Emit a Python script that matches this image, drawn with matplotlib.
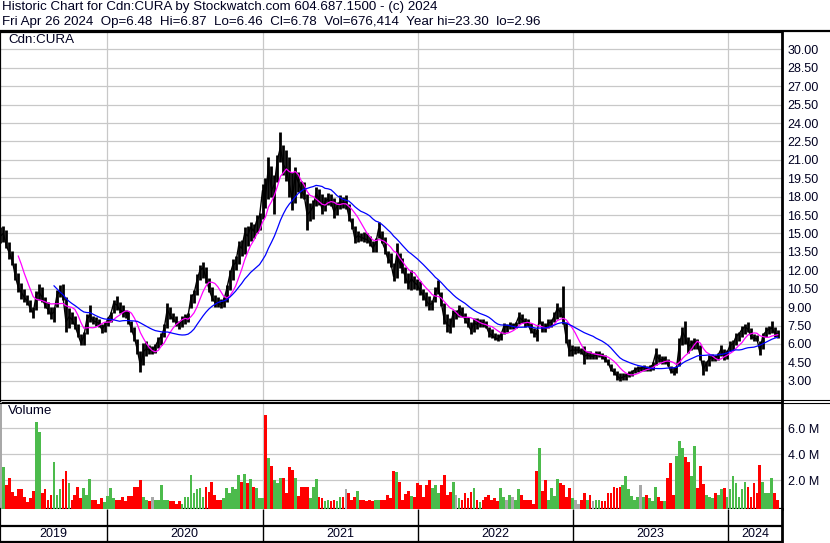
import numpy as np
import pandas as pd
import matplotlib
matplotlib.use("Agg")
import matplotlib.pyplot as plt
import matplotlib.dates as mdates
from matplotlib.lines import Line2D

plt.rcParams['font.family'] = ['Liberation Sans', 'DejaVu Sans']

# weekly bars, first week ends 2019-04-26
start = pd.Timestamp('2019-04-26')
week_hi = [15.5, 15.6, 15.3, 14.3, 13.6, 12.6, 11.8, 11.0, 10.5, 10.0,
           9.6, 9.0, 10.3, 10.9, 10.6, 9.8, 9.4, 9.0, 9.0, 10.4,
           10.8, 10.9, 9.8, 8.9, 8.6, 8.3, 7.6, 6.8, 7.0, 8.4,
           9.2, 8.3, 8.2, 8.0, 7.6, 7.8, 8.2, 8.6, 9.6, 9.9,
           9.4, 9.2, 8.8, 8.7, 7.9, 7.4, 6.4, 5.4, 6.1, 6.2,
           5.9, 5.8, 6.0, 6.6, 6.9, 7.6, 9.3, 9.0, 8.5, 8.3,
           7.9, 8.3, 8.4, 8.5, 10.1, 10.4, 11.7, 12.4, 12.7, 12.3,
           11.4, 10.6, 10.0, 9.8, 9.7, 9.8, 10.8, 12.0, 12.9, 13.2,
           14.4, 14.5, 15.5, 15.6, 15.9, 15.8, 16.5, 16.7, 19.0, 19.5,
           21.2, 20.5, 19.8, 21.4, 23.3, 22.2, 21.8, 21.2, 20.0, 20.4,
           20.0, 19.3, 19.2, 18.2, 17.5, 17.7, 18.8, 18.6, 18.2, 18.0,
           18.3, 18.2, 17.9, 17.6, 18.1, 18.0, 18.1, 17.4, 16.3, 15.6,
           15.2, 15.0, 15.1, 15.0, 14.8, 14.4, 14.6, 15.9, 15.2, 14.7,
           13.6, 13.4, 12.6, 14.2, 13.4, 13.0, 12.3, 11.8, 12.0, 11.5,
           11.3, 11.1, 10.5, 10.2, 9.9, 9.6, 10.6, 11.2, 10.2, 9.3,
           8.4, 8.1, 8.8, 8.8, 9.2, 9.0, 8.5, 8.2, 7.8, 8.1,
           8.1, 8.0, 8.0, 7.9, 7.4, 7.2, 6.9, 6.8, 6.9, 7.7,
           7.6, 7.8, 7.7, 7.8, 8.6, 8.4, 8.1, 8.0, 7.7, 7.3,
           7.2, 9.0, 7.9, 7.7, 8.0, 8.0, 8.6, 9.3, 9.0, 10.7,
           7.8, 6.4, 5.9, 5.8, 5.8, 5.7, 5.8, 5.4, 5.4, 5.3,
           5.4, 5.4, 5.3, 5.1, 4.8, 4.4, 4.0, 3.8, 3.6, 3.6,
           3.6, 3.8, 3.9, 4.1, 4.2, 4.2, 4.3, 4.2, 4.3, 4.5,
           5.65, 5.2, 5.0, 5.0, 4.8, 4.2, 4.1, 4.2, 6.5, 7.4,
           7.87, 6.6, 6.3, 6.5, 6.4, 5.9, 4.7, 4.6, 5.1, 5.2,
           5.1, 5.3, 5.9, 5.6, 5.5, 6.2, 6.3, 6.9, 7.0, 7.5,
           7.6, 7.8, 7.3, 6.8, 6.7, 6.2, 6.9, 7.4, 7.5, 7.9,
           7.4, 7.1]
week_lo = [14.2, 14.3, 13.8, 12.9, 12.4, 11.2, 10.2, 9.7, 9.4, 9.2,
           8.6, 8.1, 8.8, 9.6, 9.4, 8.9, 8.4, 8.0, 7.8, 9.0,
           9.8, 9.6, 7.0, 7.3, 7.6, 7.2, 6.6, 5.9, 5.9, 6.8,
           7.8, 7.6, 7.5, 7.4, 6.9, 7.0, 7.5, 7.8, 8.5, 8.8,
           8.5, 8.2, 8.1, 7.6, 7.0, 6.2, 5.2, 3.7, 4.3, 5.0,
           5.2, 5.2, 5.3, 5.7, 5.9, 6.6, 7.3, 8.0, 7.8, 7.5,
           7.2, 7.4, 7.6, 7.8, 8.9, 9.3, 10.0, 11.2, 11.4, 11.0,
           10.2, 9.5, 9.0, 9.0, 8.9, 9.0, 9.4, 10.4, 11.2, 12.0,
           12.5, 13.2, 13.3, 14.0, 14.4, 14.6, 15.0, 15.3, 16.2, 17.1,
           17.8, 18.0, 16.6, 19.2, 20.8, 19.8, 19.3, 18.0, 16.9, 17.5,
           18.4, 17.9, 17.8, 15.3, 16.0, 16.2, 17.2, 17.3, 16.6, 16.8,
           17.3, 17.2, 16.3, 16.5, 17.0, 17.1, 17.0, 16.0, 15.4, 14.2,
           14.3, 14.4, 14.3, 14.2, 14.0, 13.5, 13.5, 14.6, 14.2, 13.3,
           12.6, 12.3, 11.1, 11.4, 12.2, 11.8, 11.0, 10.5, 10.4, 10.5,
           10.4, 10.0, 9.6, 9.1, 8.8, 8.8, 9.4, 10.1, 9.1, 7.6,
           7.0, 6.9, 7.4, 8.0, 8.2, 8.2, 7.7, 7.4, 6.8, 7.0,
           7.2, 7.4, 7.4, 7.3, 6.6, 6.5, 6.3, 6.2, 6.3, 6.8,
           7.0, 7.2, 7.2, 7.3, 7.6, 7.7, 7.4, 7.5, 6.9, 6.6,
           6.2, 7.6, 7.0, 7.0, 7.3, 7.4, 7.8, 8.0, 8.2, 7.6,
           6.1, 5.0, 5.0, 5.2, 5.3, 5.2, 4.4, 4.8, 4.8, 4.8,
           4.8, 4.9, 4.8, 4.5, 4.3, 3.8, 3.5, 3.1, 2.96, 3.1,
           3.1, 3.3, 3.4, 3.6, 3.7, 3.8, 3.8, 3.8, 3.8, 3.9,
           4.3, 4.5, 4.4, 4.4, 4.2, 3.6, 3.5, 3.6, 4.2, 5.9,
           6.0, 5.3, 5.5, 5.6, 5.6, 4.7, 3.5, 3.8, 4.2, 4.6,
           4.6, 4.7, 5.0, 4.7, 4.8, 5.4, 5.5, 5.9, 6.2, 6.6,
           6.8, 7.0, 6.4, 6.2, 6.2, 5.1, 5.6, 6.6, 6.8, 6.9,
           6.6, 6.46]
week_close = [14.8, 15.0, 14.0, 13.4, 12.8, 11.5, 10.6, 10.2, 9.8, 9.5,
              8.9, 8.5, 10.0, 10.2, 9.8, 9.1, 8.8, 8.4, 8.6, 10.0,
              10.3, 9.9, 7.8, 8.2, 8.0, 7.5, 6.8, 6.1, 6.6, 8.0,
              8.3, 7.9, 7.8, 7.7, 7.2, 7.5, 8.0, 8.4, 9.3, 9.2,
              8.8, 8.6, 8.5, 7.9, 7.2, 6.5, 5.5, 4.2, 5.4, 5.6,
              5.5, 5.5, 5.8, 6.3, 6.6, 7.3, 8.8, 8.3, 8.0, 7.8,
              7.6, 8.0, 8.1, 8.3, 9.8, 10.1, 11.2, 12.0, 12.2, 11.4,
              10.5, 9.8, 9.4, 9.3, 9.2, 9.5, 10.5, 11.6, 12.4, 12.6,
              14.0, 13.8, 15.0, 14.8, 15.5, 15.2, 16.0, 16.4, 18.5, 18.0,
              20.5, 18.5, 19.0, 21.0, 22.0, 20.6, 20.2, 19.0, 17.8, 19.8,
              19.2, 18.5, 18.1, 16.5, 16.8, 17.2, 18.3, 17.8, 17.0, 17.6,
              17.8, 17.5, 16.8, 17.2, 17.6, 17.5, 17.5, 16.4, 15.8, 14.6,
              14.8, 14.7, 14.6, 14.5, 14.3, 13.8, 14.2, 15.4, 14.4, 13.8,
              13.0, 12.7, 11.5, 13.2, 12.6, 12.2, 11.4, 10.9, 11.3, 11.0,
              10.8, 10.3, 10.0, 9.5, 9.2, 9.3, 10.2, 10.6, 9.4, 8.0,
              7.6, 7.4, 8.5, 8.5, 8.8, 8.4, 8.0, 7.6, 7.1, 7.7,
              7.6, 7.8, 7.7, 7.5, 6.9, 6.7, 6.5, 6.4, 6.7, 7.4,
              7.4, 7.5, 7.5, 7.6, 8.2, 8.0, 7.8, 7.7, 7.1, 6.9,
              6.8, 8.0, 7.4, 7.3, 7.7, 7.8, 8.3, 8.9, 8.6, 8.0,
              6.4, 5.4, 5.5, 5.5, 5.5, 5.4, 5.0, 5.1, 5.0, 5.0,
              5.1, 5.2, 5.0, 4.7, 4.5, 3.9, 3.7, 3.4, 3.2, 3.3,
              3.4, 3.6, 3.7, 3.9, 4.0, 4.0, 4.1, 4.0, 4.1, 4.3,
              5.2, 4.8, 4.7, 4.8, 4.4, 3.8, 3.7, 4.0, 6.0, 7.0,
              6.5, 5.8, 6.0, 6.2, 6.0, 5.0, 3.9, 4.4, 4.8, 4.9,
              4.8, 5.1, 5.6, 5.0, 5.3, 5.9, 6.0, 6.6, 6.8, 7.2,
              7.4, 7.2, 6.6, 6.5, 6.4, 5.4, 6.7, 7.0, 7.2, 7.3,
              6.9, 6.78]
# weekly volume, millions of shares
week_vol = [8.0, 3.0, 1.6, 2.2, 1.1, 0.8, 1.3, 1.3, 0.7, 0.3,
            0.6, 1.2, 6.5, 5.7, 1.0, 1.3, 0.5, 0.9, 3.4, 0.9,
            1.3, 2.1, 2.7, 1.8, 0.5, 0.9, 1.5, 0.6, 1.4, 0.9,
            2.1, 0.5, 0.5, 0.2, 0.6, 0.3, 0.8, 1.4, 0.6, 0.5,
            0.5, 0.7, 0.4, 0.8, 0.8, 1.5, 1.5, 2.0, 0.7, 0.5,
            0.4, 0.7, 0.5, 0.5, 1.6, 0.5, 0.5, 0.4, 0.4, 0.2,
            0.4, 0.2, 0.7, 0.7, 2.4, 1.0, 1.3, 1.4, 0.7, 1.5,
            1.1, 1.9, 0.9, 0.5, 0.5, 0.6, 1.4, 1.0, 1.5, 1.3,
            2.4, 1.9, 2.5, 1.8, 2.1, 1.5, 1.4, 0.6, 0.6, 7.0,
            3.7, 3.1, 2.0, 1.8, 2.2, 2.2, 1.0, 3.0, 2.8, 2.2,
            0.8, 1.5, 1.5, 1.5, 0.6, 1.5, 2.1, 0.7, 0.6, 0.4,
            0.5, 0.4, 0.5, 0.4, 0.7, 0.7, 1.3, 1.0, 0.5, 0.7,
            1.2, 0.5, 0.5, 0.4, 0.5, 0.4, 0.5, 0.5, 0.5, 0.5,
            0.9, 0.6, 2.7, 2.6, 1.9, 0.5, 0.95, 1.2, 0.8, 0.7,
            1.8, 1.6, 0.7, 1.6, 2.0, 1.4, 1.6, 1.0, 1.6, 2.4,
            0.9, 1.1, 1.9, 0.9, 0.6, 0.5, 1.0, 0.6, 1.1, 1.4,
            0.5, 0.3, 0.5, 0.7, 0.9, 0.5, 0.6, 0.4, 1.4, 0.7,
            0.5, 0.9, 0.7, 0.5, 1.3, 0.9, 0.5, 0.5, 0.5, 0.2,
            2.7, 4.5, 1.2, 2.0, 0.5, 1.4, 0.8, 2.1, 1.8, 1.6,
            0.7, 1.4, 0.6, 0.5, 0.2, 0.5, 1.0, 0.5, 0.9, 0.4,
            0.5, 0.5, 0.4, 0.4, 1.0, 1.0, 1.5, 1.4, 1.5, 1.6,
            2.3, 1.3, 0.8, 0.5, 0.7, 1.6, 0.7, 0.9, 0.6, 0.4,
            1.5, 0.7, 0.4, 0.4, 2.2, 3.3, 0.9, 3.9, 5.0, 4.5,
            3.8, 3.4, 2.3, 4.6, 1.4, 3.1, 1.7, 0.9, 0.7, 0.6,
            1.0, 0.9, 1.3, 1.4, 0.7, 1.3, 2.3, 1.8, 0.7, 1.3,
            1.9, 1.5, 0.7, 1.8, 1.0, 3.2, 1.9, 1.0, 1.0, 2.2,
            1.0, 0.5]

years = [2019, 2020, 2021, 2022, 2023, 2024]
price_ticks = np.arange(3.0, 30.01, 1.5)
vol_ticks = [2.0, 4.0, 6.0]

n = len(week_close)
assert len(week_hi) == n and len(week_lo) == n and len(week_vol) == n

dates = pd.date_range(start, periods=n, freq='7D')
xs = mdates.date2num(dates)
close = pd.Series(week_close)
ma_short = close.rolling(7).mean()
ma_long = close.rolling(19).mean()

# green for an up week, red for a down week, grey when unchanged
chg = close.diff().fillna(0)
bar_colors = np.where(chg > 0, '#4cbb4c', np.where(chg < 0, '#ff0000', '#a8a8a8'))

W, H = 830, 543
fig = plt.figure(figsize=(W / 100, H / 100), dpi=100)


def box(l, t, r, b):
    return [l / W, 1 - b / H, (r - l) / W, (b - t) / H]


x_lo = mdates.date2num(start - pd.Timedelta(days=1))
x_hi = mdates.date2num(start + pd.Timedelta(days=1837))
jan1 = [mdates.date2num(pd.Timestamp(f'{y}-01-01')) for y in years[1:]]
grid_col = '#c8c8c8'
txt_col = '#000020'

# price panel
ax = fig.add_axes(box(0, 32, 782, 400))
ax.vlines(xs, week_lo, week_hi, color='black', lw=2.0, zorder=3)
ax.plot(xs, week_close, color='black', lw=1.0, zorder=3)
ax.plot(xs, ma_short, color='#ff00ff', lw=0.9, zorder=4)
ax.plot(xs, ma_long, color='#0000ff', lw=0.9, zorder=4)
ax.set_xlim(x_lo, x_hi)
ax.set_ylim(1.43, 31.42)
ax.set_yticks(price_ticks)
ax.set_yticklabels([f'{v:.2f}' for v in price_ticks])
ax.yaxis.tick_right()
ax.set_xticks(jan1)
ax.set_xticklabels([])
ax.tick_params(length=0, pad=4, labelsize=9, labelcolor=txt_col)
ax.grid(True, color=grid_col, lw=0.9)
ax.set_axisbelow(True)
fig.text(8 / W, 1 - 34 / H, 'Cdn:CURA', fontsize=9.6, va='top', ha='left', color=txt_col)

# volume panel
axv = fig.add_axes(box(0, 402, 782, 509))
v_bot = -0.21
axv.bar(xs, np.array(week_vol) - v_bot, bottom=v_bot, width=6.5,
        color=bar_colors, lw=0, zorder=3)
axv.set_xlim(x_lo, x_hi)
axv.set_ylim(v_bot, 8.02)
axv.set_yticks(vol_ticks)
axv.set_yticklabels([f'{v:.1f} M' for v in vol_ticks])
axv.yaxis.tick_right()
axv.set_xticks(jan1)
axv.set_xticklabels([])
axv.tick_params(length=0, pad=4, labelsize=9, labelcolor=txt_col)
axv.grid(True, color=grid_col, lw=0.9)
axv.set_axisbelow(True)
fig.text(8 / W, 1 - 405 / H, 'Volume', fontsize=9.6, va='top', ha='left', color=txt_col)

# year band
axy = fig.add_axes(box(0, 509, 782, 542))
axy.set_xlim(x_lo, x_hi)
axy.set_ylim(0, 1)
axy.set_xticks([])
axy.set_yticks([])
axy.vlines(jan1, 0, 1, color='black', lw=1.0)
axy.axhline(0.5, color='black', lw=1.6)
edges = [x_lo] + jan1 + [x_hi]
for y, a, b in zip(years, edges[:-1], edges[1:]):
    axy.text((a + b) / 2, 0.24, str(y), ha='center', va='center', fontsize=9, color=txt_col)

for a in (ax, axv, axy):
    for s in a.spines.values():
        s.set_color('black')
    a.spines['left'].set_linewidth(1.6)
    a.spines['right'].set_linewidth(2.0)
ax.spines['top'].set_linewidth(1.6)
ax.spines['bottom'].set_linewidth(0.8)
axv.spines['top'].set_linewidth(0.8)
axv.spines['bottom'].set_linewidth(1.6)
axy.spines['top'].set_visible(False)
axy.spines['bottom'].set_linewidth(1.6)

# separators across the label column
for yy, lw in ((31, 1.6), (400, 0.8), (402.5, 0.8)):
    fig.add_artist(Line2D([0, 1], [1 - yy / H] * 2, color='black', lw=lw))

fig.text(2 / W, 1 - 1 / H,
         'Historic Chart for Cdn:CURA by Stockwatch.com 604.687.1500 - (c) 2024',
         fontsize=9.6, va='top', ha='left', color=txt_col)
fig.text(2 / W, 1 - 15.5 / H,
         'Fri Apr 26 2024  Op=6.48  Hi=6.87  Lo=6.46  Cl=6.78  Vol=676,414  Year hi=23.30  lo=2.96',
         fontsize=9.6, va='top', ha='left', color=txt_col)

fig.savefig('out.png', dpi=100, facecolor='white')
